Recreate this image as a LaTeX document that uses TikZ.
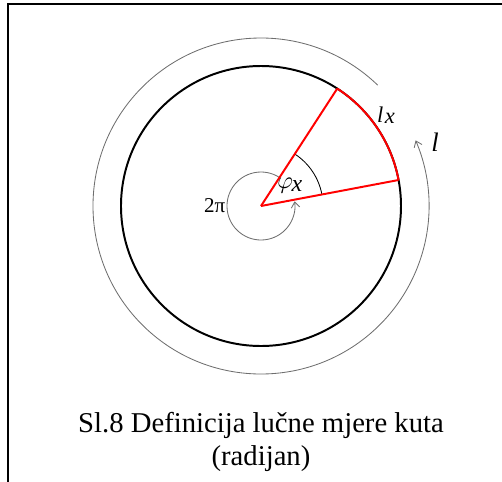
\documentclass[tikz,border=0pt]{standalone}
\usepackage{fontspec}
\setmainfont{Liberation Serif}
\usetikzlibrary{calc,arrows.meta}
\definecolor{ArcRed}{RGB}{255,0,0}
\definecolor{ThinGray}{RGB}{110,110,110}
\tikzset{
  circedge/.style={draw=black,line width=1.4pt},
  rededge/.style={draw=ArcRed,line width=1.4pt},
  thinedge/.style={draw=ThinGray,line width=0.6pt,-{Straight Barb[length=4pt,width=6pt]}},
  angleedge/.style={draw=black,line width=0.6pt},
  lbl/.style={inner sep=1pt,font=\fontsize{15}{18}\selectfont},
  caption/.style={align=center,inner sep=0pt,font=\fontsize{20.4}{23}\selectfont},
}
\begin{document}
\begin{tikzpicture}
        \useasboundingbox (-6.525,-6.875) rectangle (6.025,5.15);
        \coordinate (O) at (0,0);
        \coordinate (A) at (10.7:3.5);
        \coordinate (B) at (57:3.5);
        \coordinate (tl) at (-6.325,5.05);
        % frame
        \draw[line width=1.4pt] (6.1,5.05) -- (tl) -- (-6.325,-6.9);
        % circles and arcs
        \draw[circedge] (O) circle (3.5);
        \draw[thinedge] (46:4.2) arc (46:383:4.2);
        \draw[thinedge] (57:0.85) arc (57:368:0.85);
        \draw[angleedge] (10.7:1.55) arc (10.7:57:1.55);
        \draw[rededge] (A) arc (10.7:57:3.5);
        \foreach \p in {A,B}
          \draw[rededge] (O)--(\p);
        % labels
        \node[lbl,left] (twopi) at (180:0.85) {2π};
        \node[lbl,font=\fontsize{17}{20}\selectfont] (phi) at (0.72,0.5) {$\varphi$\kern-1pt\raisebox{-2pt}{\textit{x}}};
        \node[lbl,font=\fontsize{16}{19}\selectfont] (lx) at (3.125,2.275) {\textit{l}\kern1pt\raisebox{-1pt}{\textit{x}}};
        \node[lbl,font=\fontsize{19}{22}\selectfont] (l) at (4.35,1.6) {\textit{l}};
        \node[caption] (cap) at (0,-5.9) {Sl.8 Definicija lučne mjere kuta\\(radijan)};
      \end{tikzpicture}
\end{document}
